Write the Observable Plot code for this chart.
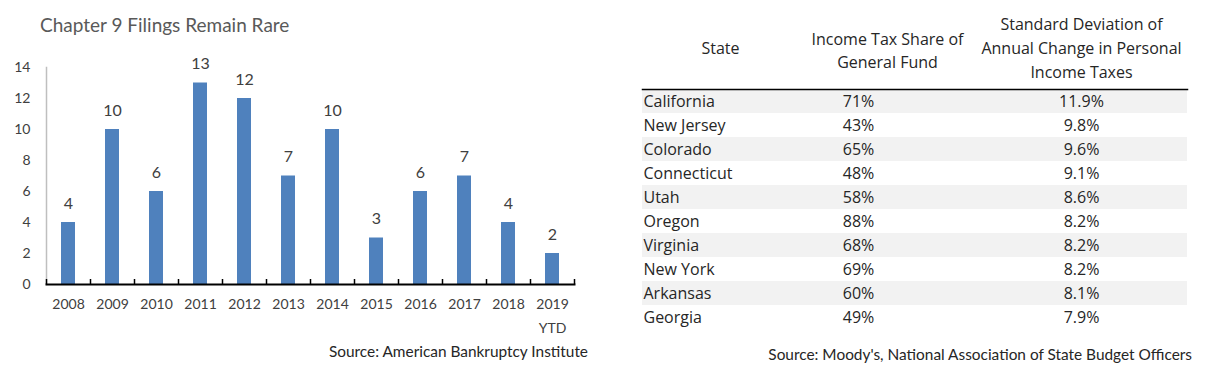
<!DOCTYPE html>
<html><head><meta charset="utf-8">
<script src="https://cdn.jsdelivr.net/npm/d3@7"></script>
<script src="https://cdn.jsdelivr.net/npm/@observablehq/plot@0.6"></script>
<style>
body{margin:0;width:1208px;height:376px;background:#fff;position:relative;overflow:hidden;font-family:Lato,sans-serif}
.abs{position:absolute;white-space:nowrap}
#title{left:40px;top:13px;font-size:19px;color:#595959}
#src1{right:620px;top:342px;font-size:15.4px;color:#262626}
#src2{right:16px;top:345px;font-size:15.4px;color:#262626}
svg{overflow:visible}
</style></head><body>
<div id="title" class="abs">Chapter 9 Filings Remain Rare</div>
<div id="chart" class="abs" style="left:0;top:0"></div>
<div id="src1" class="abs">Source: American Bankruptcy Institute</div>
<div id="table" class="abs" style="left:608px;top:0"></div>
<div id="src2" class="abs">Source: Moody's, National Association of State Budget Officers</div>
<script>
// ---- Chart data ----
const years = ["2008","2009","2010","2011","2012","2013","2014","2015","2016","2017","2018","2019\nYTD"];
const filings = [4,10,6,13,12,7,10,3,6,7,4,2];
const yTicks = [0,2,4,6,8,10,12,14];

// ---- Table data ----
const headers = ["State","Income Tax Share of\nGeneral Fund","Standard Deviation of\nAnnual Change in Personal\nIncome Taxes"];
const states = ["California","New Jersey","Colorado","Connecticut","Utah","Oregon","Virginia","New York","Arkansas","Georgia"];
const incomeTaxShare = ["71%","43%","65%","48%","58%","88%","68%","69%","60%","49%"];
const stdDevChange = ["11.9%","9.8%","9.6%","9.1%","8.6%","8.2%","8.2%","8.2%","8.1%","7.9%"];

const bars = years.map((y,i)=>({year:y, value:filings[i]}));
const rows = states.map((s,i)=>({state:s, share:incomeTaxShare[i], sd:stdDevChange[i], shaded: i%2===0}));

const chart = Plot.plot({
  width: 600, height: 340,
  marginLeft: 46, marginRight: 26, marginTop: 67, marginBottom: 56,
  style: {fontFamily: "Lato, sans-serif", color: "#404040", background: "transparent", overflow: "visible"},
  x: {domain: years, paddingInner: 0.68, paddingOuter: 0.34, label: null},
  y: {domain: [0,14], label: null},
  marks: [
    Plot.frame({anchor: "left", stroke: "#BFBFBF", strokeWidth: 1.5}),
    Plot.barY(bars, {x: "year", y: "value", fill: "#4F81BD"}),
    Plot.text(bars, {x: "year", y: "value", text: d => String(d.value), dy: -19, lineAnchor: "middle", fontSize: 16, fill: "#404040"}),
    Plot.axisY({ticks: yTicks, tickSize: 0, tickPadding: 16, fontSize: 14, fill: "#404040"}),
    Plot.axisX({ticks: years, tickSize: 0, tickPadding: 8, fontSize: 14, lineHeight: 1.71, fill: "#404040"}),
    Plot.axisX({ticks: years, tickSize: 5, dx: -22, dy: -5, text: null, stroke: "#000", strokeWidth: 1.5}),
    Plot.axisX({ticks: [years[years.length-1]], tickSize: 5, dx: 22, dy: -5, text: null, stroke: "#000", strokeWidth: 1.5}),
    Plot.frame({anchor: "bottom", stroke: "#000", strokeWidth: 2})
  ]
});
document.getElementById("chart").appendChild(chart);

const tf = "'Open Sans', sans-serif";
const fs = 16;
const colState = 1, colShare = 216, colSd = 439;
const hState = 78, hShare = 245, hSd = 439;
const table = Plot.plot({
  width: 600, height: 340,
  marginLeft: 34, marginRight: 21, marginTop: 89, marginBottom: 11,
  style: {fontFamily: tf, color: "#262626", background: "transparent", overflow: "visible"},
  y: {domain: states, padding: 0, axis: null},
  marks: [
    Plot.cell(rows.filter(d => d.shaded), {y: "state", fill: "#F2F2F2", inset: 0}),
    Plot.frame({anchor: "top", stroke: "#000", strokeWidth: 1.5}),
    Plot.text(rows, {y: "state", text: "state", frameAnchor: "left", textAnchor: "start", dx: colState, fontSize: fs, fill: "#262626"}),
    Plot.text(rows, {y: "state", text: "share", frameAnchor: "left", textAnchor: "middle", dx: colShare, fontSize: fs, fill: "#262626"}),
    Plot.text(rows, {y: "state", text: "sd", frameAnchor: "left", textAnchor: "middle", dx: colSd, fontSize: fs, fill: "#262626"}),
    Plot.text([headers[0]], {text: d => d, frameAnchor: "top-left", dx: hState, dy: -41, lineAnchor: "middle", textAnchor: "middle", fontSize: fs, fill: "#262626"}),
    Plot.text([headers[1]], {text: d => d, frameAnchor: "top-left", dx: hShare, dy: -40.5, lineAnchor: "middle", textAnchor: "middle", fontSize: fs, lineHeight: 1.44, fill: "#262626"}),
    Plot.text([headers[2]], {text: d => d, frameAnchor: "top-left", dx: hSd, dy: -43, lineAnchor: "middle", textAnchor: "middle", fontSize: fs, lineHeight: 1.5, fill: "#262626"})
  ]
});
document.getElementById("table").appendChild(table);
</script>
</body></html>
